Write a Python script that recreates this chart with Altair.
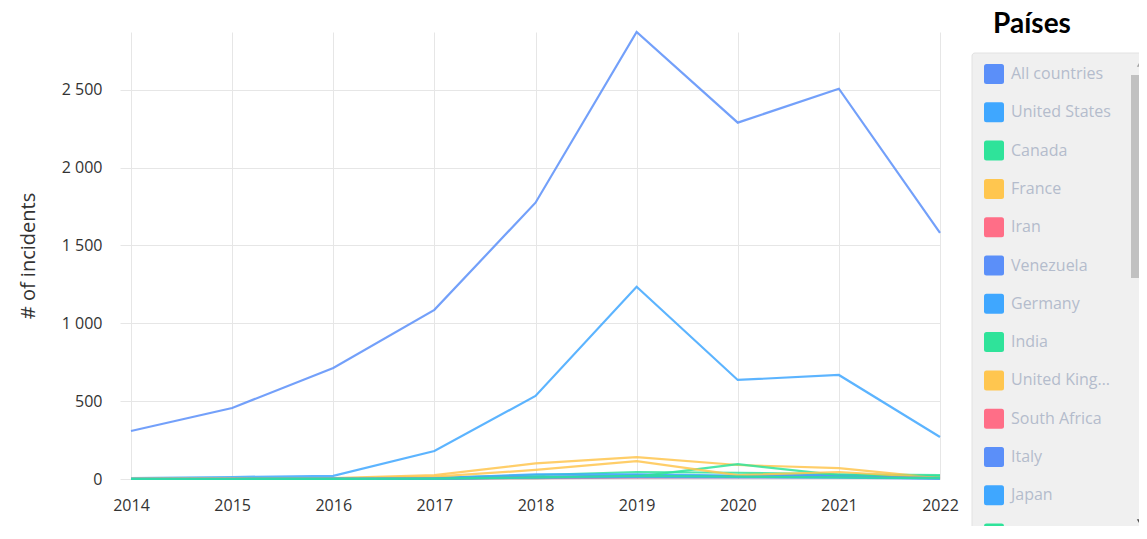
import altair as alt
import pandas as pd

years = [2014, 2015, 2016, 2017, 2018, 2019, 2020, 2021, 2022]

countries = ["All countries", "United States", "Canada", "France", "Iran",
             "Venezuela", "Germany", "India", "United Kingdom", "South Africa",
             "Italy", "Japan", "Russia"]

all_countries  = [308, 456, 713, 1086, 1774, 2870, 2288, 2506, 1581]
united_states  = [5, 13, 20, 180, 533, 1234, 636, 668, 270]
canada         = [1, 2, 4, 8, 25, 45, 40, 30, 25]
france         = [1, 3, 6, 25, 100, 140, 90, 70, 6]
iran           = [0, 1, 2, 4, 12, 15, 18, 20, 8]
venezuela      = [0, 0, 1, 3, 10, 25, 15, 12, 4]
germany        = [1, 2, 3, 6, 30, 30, 22, 25, 10]
india          = [0, 0, 1, 2, 6, 15, 95, 25, 18]
united_kingdom = [1, 2, 3, 15, 58, 115, 25, 45, 8]
south_africa   = [0, 0, 0, 2, 6, 8, 10, 12, 5]
italy          = [0, 1, 1, 3, 12, 18, 14, 16, 6]
japan          = [0, 0, 1, 2, 8, 12, 10, 9, 3]
russia         = [0, 0, 1, 3, 10, 20, 15, 10, 5]

series = [all_countries, united_states, canada, france, iran, venezuela, germany,
          india, united_kingdom, south_africa, italy, japan, russia]

palette = ["#5b8ff9", "#3fa7ff", "#2fe39a", "#ffc64f", "#ff6e87"]
color_range = [palette[i % 5] for i in range(len(countries))]

rows = []
for c, vals in zip(countries, series):
    for y, v in zip(years, vals):
        rows.append({"country": c, "year": y, "incidents": v})
df = pd.DataFrame(rows)

W, H = 809, 447
PL, PT = 123, 24
PR = 1131 - PL - W
PB = 518 - PT - H

font = "Open Sans"

rounded = "M-0.75,-1 H0.75 Q1,-1 1,-0.75 V0.75 Q1,1 0.75,1 H-0.75 Q-1,1 -1,0.75 V-0.75 Q-1,-1 -0.75,-1 Z"

xenc = alt.X("year:Q", scale=alt.Scale(domain=[2014, 2022], nice=False, zero=False),
             axis=alt.Axis(values=years, format="d", title=None, grid=True,
                           gridColor="#e6e6e6", domain=False, ticks=False,
                           labelPadding=18, labelFontSize=16, labelColor="#333333",
                           labelFont=font, labelFlush=False))
yenc = alt.Y("incidents:Q", scale=alt.Scale(domain=[0, 2870], nice=False),
             axis=alt.Axis(values=[0, 500, 1000, 1500, 2000, 2500],
                           labelExpr="replace(format(datum.value, ','), ',', ' ')",
                           title="# of incidents", titleFont=font, titleFontSize=20,
                           titleFontWeight="normal", titleColor="#333333",
                           titleX=-103, titleY=H / 2, titleAngle=-90, titleAlign="center",
                           titleBaseline="middle",
                           grid=True, gridColor="#e6e6e6", domain=False,
                           ticks=True, tickSize=11, tickColor="#e6e6e6",
                           labelPadding=18, labelFontSize=16, labelColor="#333333",
                           labelFont=font))

lines = alt.Chart(df).mark_line(strokeWidth=2.2, strokeOpacity=0.85).encode(
    x=xenc, y=yenc,
    color=alt.Color("country:N", scale=alt.Scale(domain=countries, range=color_range),
                    legend=None),
)

legend_pts = alt.Chart(df).mark_point(filled=True, opacity=0, size=1).encode(
    x=alt.X("year:Q"), y=alt.Y("incidents:Q"),
    color=alt.Color("country:N",
                    scale=alt.Scale(domain=countries, range=color_range),
                    legend=alt.Legend(
                        title=None, orient="none", legendX=853, legendY=32,
                        symbolType=rounded, symbolSize=400, symbolStrokeWidth=0,
                        labelFont=font, labelFontSize=16, labelColor="#b4bccc",
                        labelLimit=103, labelOffset=7, rowPadding=18.3,
                        symbolOpacity=1)),
)

one = pd.DataFrame({"k": [0]})

box = alt.Chart(one).mark_rect(
    color="#f0f0f0", stroke="#e2e2e2", strokeWidth=1, cornerRadius=3
).encode(x=alt.value(841), x2=alt.value(1030), y=alt.value(21), y2=alt.value(540))

thumb = alt.Chart(one).mark_rect(color="#c1c1c1").encode(
    x=alt.value(1000), x2=alt.value(1020), y=alt.value(43), y2=alt.value(246))

up = alt.Chart(one).mark_point(filled=True, size=40, opacity=1, shape="triangle-up",
                               color="#a3a3a3").encode(x=alt.value(1009), y=alt.value(32))
down = alt.Chart(one).mark_point(filled=True, size=40, opacity=1, shape="triangle-down",
                                 color="#505050").encode(x=alt.value(1009), y=alt.value(490))

title = alt.Chart(pd.DataFrame({"t": ["Países"]})).mark_text(
    font="Lato", fontSize=28, fontWeight="bold", color="#000000",
    align="center", baseline="alphabetic"
).encode(x=alt.value(901), y=alt.value(1), text="t:N")

chart = alt.layer(box, thumb, up, down, title, lines, legend_pts).resolve_scale(
    color="independent"
).properties(
    width=W, height=H,
    padding={"left": PL, "top": PT, "right": PR, "bottom": PB},
    autosize=alt.AutoSizeParams(type="none"),
).configure_view(stroke=None)

chart.save("out.html", embed_options={"renderer": "svg", "actions": False})
